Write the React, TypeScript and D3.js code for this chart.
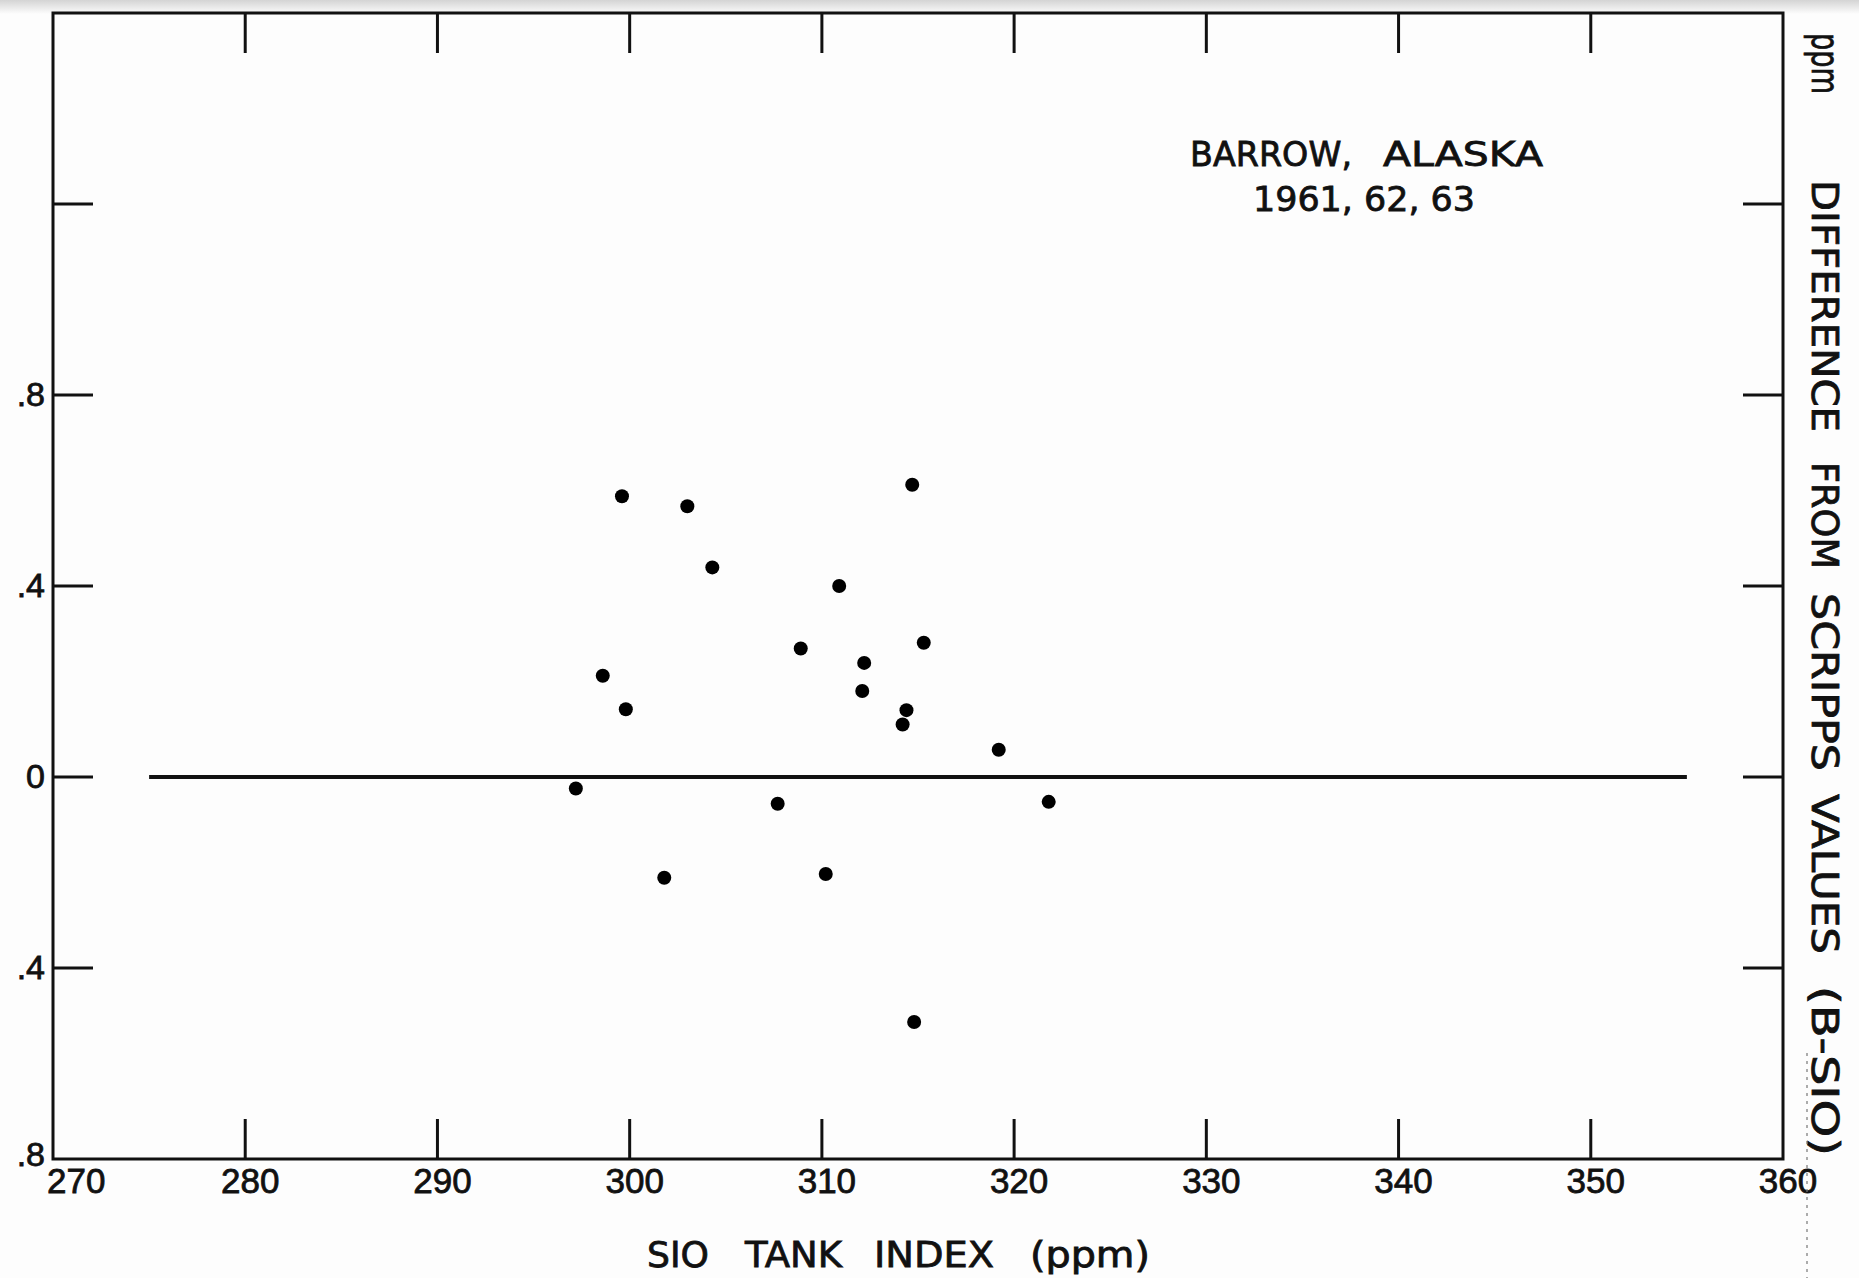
import React, { useEffect, useRef } from 'react';
import * as d3 from 'd3';

// SIO tank index (ppm) vs difference (B - SIO)
const tankIndex = [
  299.6, 303.0, 314.7, 304.3, 310.9, 308.9, 312.2, 315.3, 298.6, 299.8,
  312.1, 314.4, 314.2, 319.2, 297.2, 307.7, 301.8, 310.2, 314.8, 321.8,
];
const difference = [
  0.588, 0.567, 0.612, 0.439, 0.400, 0.269, 0.239, 0.281, 0.212, 0.142,
  0.180, 0.140, 0.110, 0.057, -0.024, -0.056, -0.211, -0.203, -0.513, -0.052,
];

const xTicks = [270, 280, 290, 300, 310, 320, 330, 340, 350, 360];
const xInnerTicks = [280, 290, 300, 310, 320, 330, 340, 350];
const yInnerTicks = [-0.4, 0, 0.4, 0.8, 1.2];
const yLabelValues = [0.8, 0.4, 0, -0.4, -0.8];
const yLabelTexts = ['.8', '.4', '0', '.4', '.8'];
const zeroLineRange = [275, 355];

// lettering laid out word by word, as on the original drawing: [text, start, end]
const xTitleWords: [string, number, number][] = [
  ['SIO', 647, 709], ['TANK', 745, 842], ['INDEX', 874, 994], ['(ppm)', 1030, 1150],
];
const yTitleWords: [string, number, number][] = [
  ['ppm', 33, 94], ['DIFFERENCE', 180, 432], ['FROM', 462, 569],
  ['SCRIPPS', 593, 771], ['VALUES', 794, 954], ['(B-SIO)', 986, 1156],
];
const stationWords: [string, number, number][] = [
  ['BARROW,', 1190, 1352], ['ALASKA', 1383, 1543],
];
const yearsLine = '1961, 62, 63';

const WIDTH = 1859;
const HEIGHT = 1278;
const NUM_FONT = '"Liberation Sans", Arial, sans-serif';
const WORD_FONT = '"DejaVu Sans", Verdana, sans-serif';
const INK = '#111';

export default function App() {
  const svgRef = useRef<SVGSVGElement>(null);

  useEffect(() => {
    if (!svgRef.current) return;
    const svg = d3.select(svgRef.current);
    svg.selectAll('*').remove();

    const frame = { left: 53, right: 1783, top: 13, bottom: 1159 };
    const tickLen = 40;

    const x = d3.scaleLinear().domain([270, 360]).range([frame.left, frame.right]);
    const y = d3.scaleLinear().domain([-0.8, 1.6]).range([frame.bottom, frame.top]);

    svg.append('rect')
      .attr('width', WIDTH)
      .attr('height', HEIGHT)
      .attr('fill', '#fdfdfd');

    // faint scan shading along the top edge
    const grad = svg.append('defs').append('linearGradient')
      .attr('id', 'topShade')
      .attr('x1', 0).attr('y1', 0).attr('x2', 0).attr('y2', 1);
    grad.append('stop').attr('offset', '0%').attr('stop-color', '#d4d4d4');
    grad.append('stop').attr('offset', '100%').attr('stop-color', '#fdfdfd');
    svg.append('rect')
      .attr('width', WIDTH)
      .attr('height', 14)
      .attr('fill', 'url(#topShade)');

    const g = svg.append('g');

    const letter = (sel: any, size: number, font = WORD_FONT) =>
      sel.attr('font-family', font)
        .attr('font-size', size)
        .attr('fill', INK)
        .attr('stroke', INK)
        .attr('stroke-width', 0.8);

    // frame
    g.append('rect')
      .attr('x', frame.left)
      .attr('y', frame.top)
      .attr('width', frame.right - frame.left)
      .attr('height', frame.bottom - frame.top)
      .attr('fill', 'none')
      .attr('stroke', INK)
      .attr('stroke-width', 3);

    // inward ticks, top + bottom
    xInnerTicks.forEach(v => {
      g.append('line')
        .attr('x1', x(v)).attr('x2', x(v))
        .attr('y1', frame.top).attr('y2', frame.top + tickLen)
        .attr('stroke', INK).attr('stroke-width', 3);
      g.append('line')
        .attr('x1', x(v)).attr('x2', x(v))
        .attr('y1', frame.bottom).attr('y2', frame.bottom - tickLen)
        .attr('stroke', INK).attr('stroke-width', 3);
    });

    // inward ticks, left + right
    yInnerTicks.forEach(v => {
      g.append('line')
        .attr('x1', frame.left).attr('x2', frame.left + tickLen)
        .attr('y1', y(v)).attr('y2', y(v))
        .attr('stroke', INK).attr('stroke-width', 3);
      g.append('line')
        .attr('x1', frame.right).attr('x2', frame.right - tickLen)
        .attr('y1', y(v)).attr('y2', y(v))
        .attr('stroke', INK).attr('stroke-width', 3);
    });

    // x tick labels
    xTicks.forEach(v => {
      letter(g.append('text'), 35, NUM_FONT)
        .attr('x', v === 270 ? 47 : x(v) + 5)
        .attr('y', frame.bottom + 34)
        .attr('text-anchor', v === 270 ? 'start' : 'middle')
        .text(v);
    });

    // y tick labels
    yLabelValues.forEach((v, i) => {
      letter(g.append('text'), 34, NUM_FONT)
        .attr('x', 45)
        .attr('y', y(v))
        .attr('dy', v === -0.8 ? '0.2em' : '0.33em')
        .attr('text-anchor', 'end')
        .text(yLabelTexts[i]);
    });

    // zero reference line
    g.append('line')
      .attr('x1', x(zeroLineRange[0]))
      .attr('x2', x(zeroLineRange[1]))
      .attr('y1', y(0))
      .attr('y2', y(0))
      .attr('stroke', INK)
      .attr('stroke-width', 4);

    // points
    g.selectAll('circle.pt')
      .data(d3.zip(tankIndex, difference))
      .join('circle')
      .attr('class', 'pt')
      .attr('cx', d => x(d[0]))
      .attr('cy', d => y(d[1]))
      .attr('r', 7)
      .attr('fill', '#000');

    // station annotation
    stationWords.forEach(([w, a, b]) => {
      letter(g.append('text'), 34)
        .attr('x', a)
        .attr('y', 166)
        .attr('textLength', b - a)
        .attr('lengthAdjust', 'spacingAndGlyphs')
        .text(w);
    });
    letter(g.append('text'), 34)
      .attr('x', 1253)
      .attr('y', 211)
      .attr('textLength', 222)
      .attr('lengthAdjust', 'spacingAndGlyphs')
      .text(yearsLine);

    // x axis title
    xTitleWords.forEach(([w, a, b]) => {
      letter(g.append('text'), 35)
        .attr('x', a)
        .attr('y', 1267)
        .attr('textLength', b - a)
        .attr('lengthAdjust', 'spacingAndGlyphs')
        .text(w);
    });

    // right-hand axis title, reads top to bottom
    const yTitle = g.append('g').attr('transform', 'translate(1812, 0) rotate(90)');
    yTitleWords.forEach(([w, a, b]) => {
      letter(yTitle.append('text'), 37)
        .attr('x', a)
        .attr('y', 0)
        .attr('textLength', b - a)
        .attr('lengthAdjust', 'spacingAndGlyphs')
        .text(w);
    });

    // dotted scan artefact along the lower right
    g.append('line')
      .attr('x1', 1807).attr('x2', 1807)
      .attr('y1', 1053).attr('y2', HEIGHT)
      .attr('stroke', '#777')
      .attr('stroke-width', 1.2)
      .attr('stroke-dasharray', '3 5');
  }, []);

  return (
    <svg
      ref={svgRef}
      width={WIDTH}
      height={HEIGHT}
      style={{ position: 'absolute', left: 0, top: 0 }}
    />
  );
}
